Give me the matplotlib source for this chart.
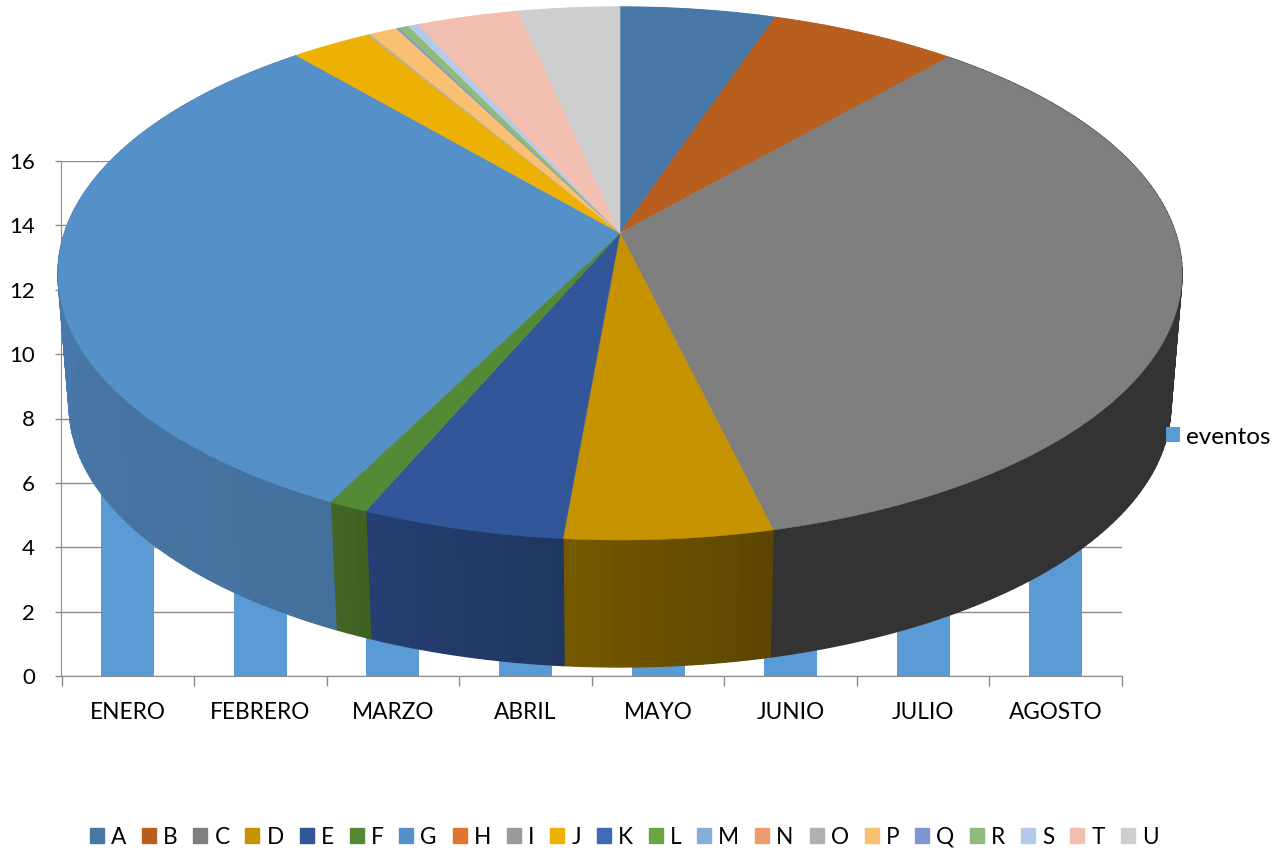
import numpy as np
import matplotlib
matplotlib.use("Agg")
import matplotlib.pyplot as plt
from matplotlib.patches import Polygon, Patch

plt.rcParams['font.family'] = ['Lato', 'DejaVu Sans']

# bar chart behind the pie (most of the tops are hidden)
months = ['ENERO', 'FEBRERO', 'MARZO', 'ABRIL', 'MAYO', 'JUNIO', 'JULIO', 'AGOSTO']
eventos = [8, 9, 5, 4, 3, 6, 7, 5]

# pie slices, read as degrees off the rim
slices = ['A', 'B', 'C', 'D', 'E', 'F', 'G', 'H', 'I', 'J', 'K',
          'L', 'M', 'N', 'O', 'P', 'Q', 'R', 'S', 'T', 'U']
shares = [18.6, 22.6, 125.2, 18.6, 18.2, 3.6, 112.7, 0, 0, 9.7, 0,
          0, 0, 0, 0.3, 3.4, 0.3, 1.2, 1.2, 12.2, 12.2]
top_colors = ['#4778a8', '#b85f20', '#7f7f7f', '#c69200', '#32569a', '#548a35', '#5590c8',
              '#e0752d', '#9a9a9a', '#edb104', '#3f6ab8', '#6aa544', '#85aedc', '#f09a70',
              '#b0b0b0', '#f8c070', '#7f96d0', '#8fbb7a', '#b3cbe8', '#f2bfb0', '#cecece']
# side wall shading, start and end of each visible slice
wall_colors = {'C': ('#333333', '#333333'), 'D': ('#5c4500', '#755900'),
               'E': ('#1f3660', '#263f72'), 'F': ('#3f6122', '#426526'),
               'G': ('#44709c', '#4d80b6')}

W, H = 1274, 851
CX, CY = 620, 233   # where the slices meet
A, B, K = 555.5, 260.3, 0.152  # perspective of the top face
SHRINK, DROP = 0.98, 137.8     # top rim to bottom rim


def rim(theta):
    u, v = np.sin(theta), np.cos(theta)
    return CX + A * u / (1 + K * v), CY - B * v / (1 + K * v)


def lower(x, y):
    return CX + SHRINK * (x - CX), SHRINK * y + DROP


fig = plt.figure(figsize=(W / 100, H / 100), dpi=100)

# bars
ax = fig.add_axes([61.5 / W, 1 - 676 / H, (1122 - 61.5) / W, (676 - 161) / H])
bars = ax.bar(range(len(months)), eventos, width=0.4, color='#5b9bd5', label='eventos', zorder=2)
ax.set_xlim(-0.5, 7.5)
ax.set_ylim(0, 16)
ax.set_yticks(range(0, 17, 2))
ax.set_xticks(np.arange(-0.5, 8, 1))
ax.set_xticklabels([])
ax.set_xticks(range(len(months)), months, minor=True)
ax.tick_params(axis='x', which='minor', length=0, pad=18.5, labelsize=16.3)
ax.tick_params(axis='x', which='major', length=7, width=1, color='#8c8c8c')
ax.tick_params(axis='y', length=4.5, width=1, color='#8c8c8c', labelsize=16, pad=14.5)
ax.grid(axis='y', color='#8c8c8c', lw=1, zorder=1)
ax.set_axisbelow(True)
for side in ['top', 'right']:
    ax.spines[side].set_visible(False)
for side in ['left', 'bottom']:
    ax.spines[side].set_color('#8c8c8c')

# 3d pie, in pixel coordinates on top of the bars
pie = fig.add_axes([0, 0, 1, 1])
pie.set_xlim(0, W)
pie.set_ylim(H, 0)
pie.axis('off')
pie.patch.set_alpha(0)

edges = np.radians(np.concatenate([[0], np.cumsum(shares)]))
for i, name in enumerate(slices):
    if shares[i] == 0:
        continue
    start, end = wall_colors.get(name, (top_colors[i], top_colors[i]))
    c0, c1 = np.array(matplotlib.colors.to_rgb(start)), np.array(matplotlib.colors.to_rgb(end))
    steps = np.linspace(edges[i], edges[i + 1], max(2, int(shares[i])) + 1)
    for j in range(len(steps) - 1):
        t = np.linspace(steps[j], steps[j + 1], 6)
        x, y = rim(t)
        bx, by = lower(x, y)
        col = c0 + (c1 - c0) * j / max(1, len(steps) - 2)
        pts = np.column_stack([np.r_[x, bx[::-1]], np.r_[y, by[::-1]]])
        # walls at the back end up under the top face
        pie.add_patch(Polygon(pts, closed=True, fc=col, ec=col, lw=1.0, zorder=3))

for i, name in enumerate(slices):
    if shares[i] == 0:
        continue
    t = np.linspace(edges[i], edges[i + 1], max(3, int(shares[i]) * 2))
    x, y = rim(t)
    pts = np.column_stack([np.r_[CX, x], np.r_[CY, y]])
    pie.add_patch(Polygon(pts, closed=True, fc=top_colors[i], ec=top_colors[i], lw=0.4, zorder=4))

# legends
handles = [Patch(color=c, label=s) for s, c in zip(slices, top_colors)]
pie.legend(handles=handles, loc='center', bbox_to_anchor=(624 / W, 1 - 837 / H), ncol=len(slices),
           frameon=False, fontsize=16.3, handlelength=0.62, handleheight=0.62, handletextpad=0.31,
           columnspacing=0.7, borderpad=0, borderaxespad=0)
pie.legend_.set_zorder(6)
second = fig.legend(handles=[bars], loc='center left', bbox_to_anchor=(1166 / W, 1 - 437 / H),
                    frameon=False, fontsize=17.5, handlelength=0.58, handleheight=0.58,
                    handletextpad=0.25, borderpad=0, borderaxespad=0)

fig.savefig('out.png', dpi=100)
